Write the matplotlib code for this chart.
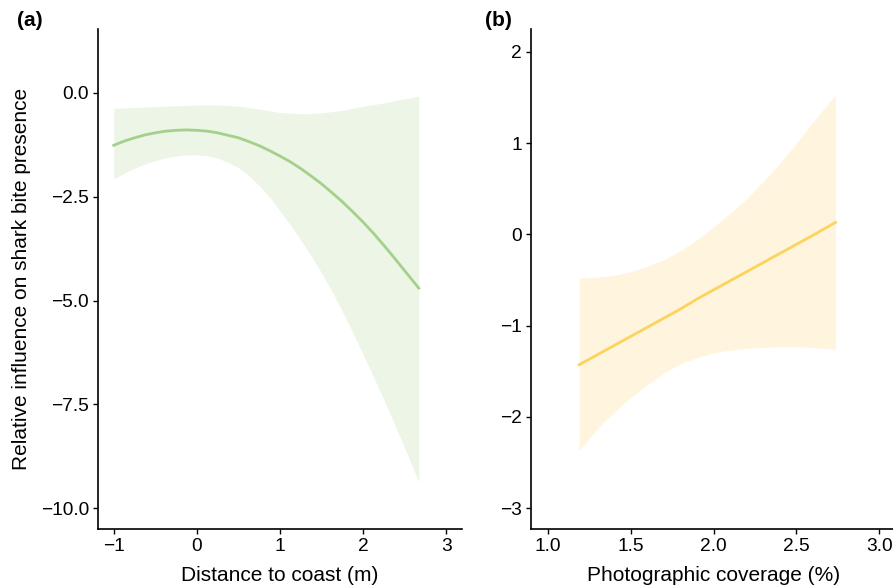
import matplotlib
matplotlib.use("Agg")
import matplotlib.pyplot as plt

plt.rcParams['font.family'] = ['Liberation Sans', 'DejaVu Sans']

# panel (a): distance to coast
dist_x = [-1.0, -0.875, -0.75, -0.625, -0.5, -0.375, -0.25, -0.125, 0.0, 0.125, 0.25, 0.375, 0.5, 0.625, 0.75,
          0.875, 1.0, 1.125, 1.25, 1.375, 1.5, 1.625, 1.75, 1.875, 2.0, 2.125, 2.25, 2.375, 2.5, 2.67]
dist_fit = [-1.26, -1.16, -1.08, -1.01, -0.96, -0.92, -0.90, -0.89, -0.90, -0.92, -0.96, -1.02, -1.08, -1.17, -1.27,
            -1.39, -1.52, -1.66, -1.82, -2.00, -2.19, -2.40, -2.62, -2.86, -3.11, -3.38, -3.67, -3.97, -4.28, -4.70]
dist_hi = [-0.37, -0.36, -0.35, -0.34, -0.33, -0.32, -0.31, -0.30, -0.29, -0.29, -0.29, -0.30, -0.32, -0.35, -0.39,
           -0.43, -0.47, -0.49, -0.50, -0.50, -0.48, -0.45, -0.42, -0.37, -0.32, -0.28, -0.24, -0.19, -0.14, -0.08]
dist_lo = [-2.07, -1.93, -1.81, -1.71, -1.63, -1.56, -1.52, -1.49, -1.49, -1.51, -1.57, -1.67, -1.80, -1.99, -2.23,
           -2.51, -2.84, -3.18, -3.54, -3.92, -4.33, -4.78, -5.26, -5.77, -6.29, -6.83, -7.39, -7.96, -8.55, -9.37]

# panel (b): photographic coverage
cov_x = [1.19, 1.3, 1.4, 1.5, 1.6, 1.7, 1.8, 1.9, 2.0, 2.1, 2.2, 2.3, 2.4, 2.5, 2.6, 2.735]
cov_fit = [-1.43, -1.32, -1.22, -1.12, -1.02, -0.92, -0.82, -0.71, -0.61, -0.51, -0.41, -0.31, -0.21, -0.11, -0.01, 0.13]
cov_hi = [-0.48, -0.47, -0.45, -0.41, -0.35, -0.28, -0.18, -0.06, 0.08, 0.23, 0.39, 0.58, 0.78, 1.00, 1.23, 1.53]
cov_lo = [-2.37, -2.13, -1.95, -1.79, -1.65, -1.52, -1.42, -1.35, -1.30, -1.27, -1.25, -1.24, -1.235, -1.235, -1.24, -1.26]

fig = plt.figure(figsize=(8.93, 5.87), dpi=100)
ax1 = fig.add_axes([98 / 893, 58 / 587, 364 / 893, 500 / 587])
ax2 = fig.add_axes([531 / 893, 58 / 587, 365 / 893, 500 / 587])

ax1.fill_between(dist_x, dist_lo, dist_hi, color='#edf5e6', linewidth=0)
ax1.plot(dist_x, dist_fit, color='#a3d18b', linewidth=2)
ax1.set_xlim(-1.19, 3.19)
ax1.set_ylim(-10.5, 1.54)
ax1.set_xticks([-1, 0, 1, 2, 3])
ax1.set_yticks([0, -2.5, -5, -7.5, -10])
ax1.set_yticklabels(['0.0', '\u22122.5', '\u22125.0', '\u22127.5', '\u221210.0'])
ax1.set_xticklabels(['\u22121', '0', '1', '2', '3'])
ax1.set_xlabel('Distance to coast (m)', fontsize=15, labelpad=8)
ax1.set_ylabel('Relative influence on shark bite presence', fontsize=15, labelpad=7)

ax2.fill_between(cov_x, cov_lo, cov_hi, color='#fff5de', linewidth=0)
ax2.plot(cov_x, cov_fit, color='#fdd35c', linewidth=2)
ax2.set_xlim(0.9, 3.1)
ax2.set_ylim(-3.23, 2.25)
ax2.set_xticks([1.0, 1.5, 2.0, 2.5, 3.0])
ax2.set_yticks([-3, -2, -1, 0, 1, 2])
ax2.set_yticklabels(['\u22123', '\u22122', '\u22121', '0', '1', '2'])
ax2.set_xlabel('Photographic coverage (%)', fontsize=15, labelpad=8)

for ax in (ax1, ax2):
    ax.spines['top'].set_visible(False)
    ax.spines['right'].set_visible(False)
    for s in ('left', 'bottom'):
        ax.spines[s].set_linewidth(1.2)
    ax.tick_params(labelsize=13.75, length=3.5, width=1.0, colors='black', pad=3)

fig.text(17 / 893, 1 - 20 / 587, '(a)', fontsize=15, fontweight='bold', va='center')
fig.text(485 / 893, 1 - 20 / 587, '(b)', fontsize=15, fontweight='bold', va='center')

fig.savefig('out.png', dpi=100)
